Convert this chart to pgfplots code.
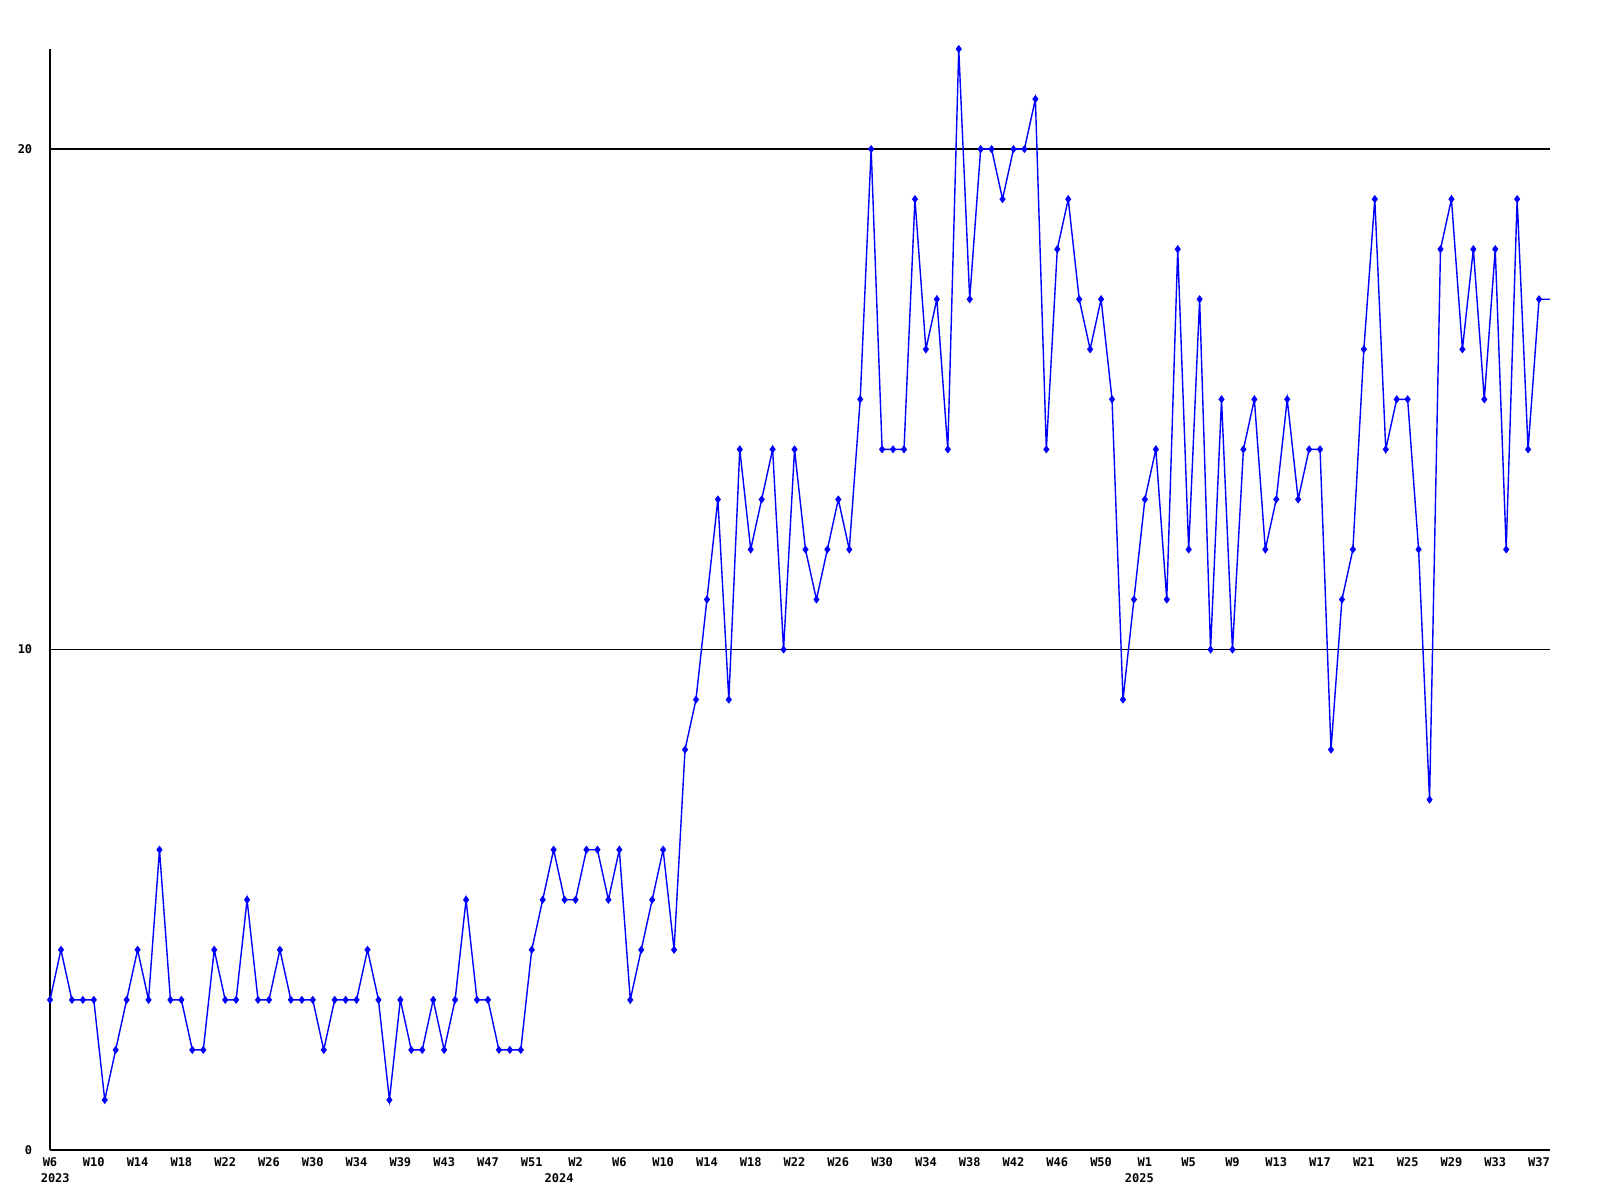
\documentclass[border=0pt]{standalone}
\usepackage{pgfplots}
\pgfplotsset{compat=1.18}
\usepackage{pgfplotstable}
\usepackage{fontspec}
\setmonofont{DejaVu Sans Mono}
\newcommand\lblfont{\ttfamily\bfseries\fontsize{3}{3.5}\selectfont}

% weekly counts, 2023 W6 .. 2025 W37 (+ current week)
\pgfplotstableread{
idx val
0 3
1 4
2 3
3 3
4 3
5 1
6 2
7 3
8 4
9 3
10 6
11 3
12 3
13 2
14 2
15 4
16 3
17 3
18 5
19 3
20 3
21 4
22 3
23 3
24 3
25 2
26 3
27 3
28 3
29 4
30 3
31 1
32 3
33 2
34 2
35 3
36 2
37 3
38 5
39 3
40 3
41 2
42 2
43 2
44 4
45 5
46 6
47 5
48 5
49 6
50 6
51 5
52 6
53 3
54 4
55 5
56 6
57 4
58 8
59 9
60 11
61 13
62 9
63 14
64 12
65 13
66 14
67 10
68 14
69 12
70 11
71 12
72 13
73 12
74 15
75 20
76 14
77 14
78 14
79 19
80 16
81 17
82 14
83 22
84 17
85 20
86 20
87 19
88 20
89 20
90 21
91 14
92 18
93 19
94 17
95 16
96 17
97 15
98 9
99 11
100 13
101 14
102 11
103 18
104 12
105 17
106 10
107 15
108 10
109 14
110 15
111 12
112 13
113 15
114 13
115 14
116 14
117 8
118 11
119 12
120 16
121 19
122 14
123 15
124 15
125 12
126 7
127 18
128 19
129 16
130 18
131 15
132 18
133 12
134 19
135 14
136 17
137 17
}\weekly

\begin{document}
\begin{tikzpicture}
\useasboundingbox (-12.5pt,-12.5pt) rectangle (387.5pt,287.5pt);
\begin{axis}[
  at={(0,0)}, anchor=south west,
  scale only axis, width=375pt, height=275.25pt,
  xmin=0, xmax=137, ymin=0, ymax=22,
  axis x line=bottom, axis y line=left,
  axis line style={-, black, line width=0.3pt},
  xtick={0,4,...,136},
  xticklabels={W6,W10,W14,W18,W22,W26,W30,W34,W39,W43,W47,W51,
    W2,W6,W10,W14,W18,W22,W26,W30,W34,W38,W42,W46,W50,
    W1,W5,W9,W13,W17,W21,W25,W29,W33,W37},
  ytick={0,10,20}, yticklabels={0,10,20},
  ymajorgrids, grid style={black, line width=0.3pt},
  major tick length=0pt,
  /pgf/number format/assume math mode=true,
  tick label style={font=\lblfont, inner sep=0pt},
  xticklabel style={anchor=north, yshift=-1.75pt},
  yticklabel style={anchor=east, xshift=-4.25pt},
  clip=false,
]
\addplot[blue, line width=0.35pt] table[x=idx, y=val] {\weekly};
\addplot[blue, only marks, mark=diamond*, mark size=0.7pt,
  restrict x to domain=0:136] table[x=idx, y=val] {\weekly};

\node[font=\lblfont, inner sep=0pt, anchor=north west, xshift=-2.5pt, yshift=-5.7pt] at (axis cs:0,0) {2023};
\node[font=\lblfont, inner sep=0pt, anchor=north, yshift=-5.7pt] at (axis cs:46.5,0) {2024};
\node[font=\lblfont, inner sep=0pt, anchor=north, yshift=-5.7pt] at (axis cs:99.5,0) {2025};
\end{axis}
\end{tikzpicture}
\end{document}
